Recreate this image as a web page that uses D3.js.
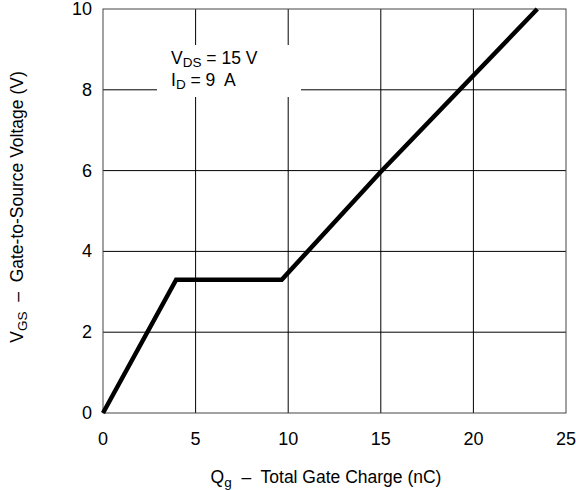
<!DOCTYPE html>
<html>
<head>
<meta charset="utf-8">
<script src="https://cdn.jsdelivr.net/npm/d3@7"></script>
<style>
body { margin: 0; background: #fff; }
svg { display: block; font-family: "Liberation Sans", Arial, sans-serif; }
svg text { white-space: pre; }
</style>
</head>
<body>
<div id="chart"></div>
<script>
// gate charge curve, Qg (nC) vs VGS (V)
var qg = [0, 3.95, 9.65, 15, 23.45];
var vgs = [0, 3.3, 3.3, 5.97, 10];
var xTicks = [0, 5, 10, 15, 20, 25];
var yTicks = [0, 2, 4, 6, 8, 10];

var width = 576, height = 490;
var margin = {left: 103, right: 10, top: 9, bottom: 77};

var svg = d3.select("#chart").append("svg")
    .attr("width", width)
    .attr("height", height);

var x = d3.scaleLinear().domain([0, 25]).range([margin.left, width - margin.right]);
var y = d3.scaleLinear().domain([0, 10]).range([height - margin.bottom, margin.top]);

// grid
svg.append("g").selectAll("line").data(xTicks.slice(1, -1)).enter().append("line")
    .attr("x1", function(d) { return x(d); })
    .attr("x2", function(d) { return x(d); })
    .attr("y1", y(0)).attr("y2", y(10))
    .attr("stroke", "#000").attr("stroke-width", 1);
svg.append("g").selectAll("line").data(yTicks.slice(1, -1)).enter().append("line")
    .attr("y1", function(d) { return y(d); })
    .attr("y2", function(d) { return y(d); })
    .attr("x1", x(0)).attr("x2", x(25))
    .attr("stroke", "#000").attr("stroke-width", 1);

// frame
svg.append("rect")
    .attr("x", x(0)).attr("y", y(10))
    .attr("width", x(25) - x(0)).attr("height", y(0) - y(10))
    .attr("fill", "none").attr("stroke", "#444").attr("stroke-width", 1);

// annotation box
svg.append("rect")
    .attr("x", 157).attr("y", 45)
    .attr("width", 144).attr("height", 52)
    .attr("fill", "#fff");

var ann = svg.append("g").style("font-size", "17.5px").attr("fill", "#000");
var t1 = ann.append("text").attr("x", 171).attr("y", 64);
t1.append("tspan").text("V");
t1.append("tspan").attr("dy", 3).style("font-size", "13.5px").text("DS");
t1.append("tspan").attr("dy", -3).text(" = 15 V");
var t2 = ann.append("text").attr("x", 171).attr("y", 86);
t2.append("tspan").text("I");
t2.append("tspan").attr("dy", 3).style("font-size", "13.5px").text("D");
t2.append("tspan").attr("dy", -3).text(" = 9  A");

// curve
var line = d3.line()
    .x(function(d, i) { return x(qg[i]); })
    .y(function(d, i) { return y(vgs[i]); });
svg.append("path")
    .datum(qg)
    .attr("d", line)
    .attr("fill", "none")
    .attr("stroke", "#000")
    .attr("stroke-width", 4.5)
    .attr("stroke-linejoin", "miter");

// tick labels
svg.append("g").selectAll("text").data(xTicks).enter().append("text")
    .attr("x", function(d) { return x(d); })
    .attr("y", 445)
    .attr("text-anchor", "middle")
    .style("font-size", "18px")
    .text(function(d) { return d; });
svg.append("g").selectAll("text").data(yTicks).enter().append("text")
    .attr("x", 92)
    .attr("y", function(d) { return y(d) + 6; })
    .attr("text-anchor", "end")
    .style("font-size", "18px")
    .text(function(d) { return d; });

// axis titles
var xt = svg.append("text")
    .attr("x", 326).attr("y", 483)
    .attr("text-anchor", "middle")
    .style("font-size", "17.5px");
xt.append("tspan").text("Q");
xt.append("tspan").attr("dy", 4).style("font-size", "13.5px").text("g");
xt.append("tspan").attr("dy", -4).text("  \u2013  Total Gate Charge (nC)");

var yt = svg.append("text")
    .attr("transform", "translate(23,207) rotate(-90)")
    .attr("text-anchor", "middle")
    .style("font-size", "17.5px");
yt.append("tspan").text("V");
yt.append("tspan").attr("dy", 4).style("font-size", "13.5px").text("GS");
yt.append("tspan").attr("dy", -4).text("  \u2013  Gate-to-Source Voltage (V)");
</script>
</body>
</html>
